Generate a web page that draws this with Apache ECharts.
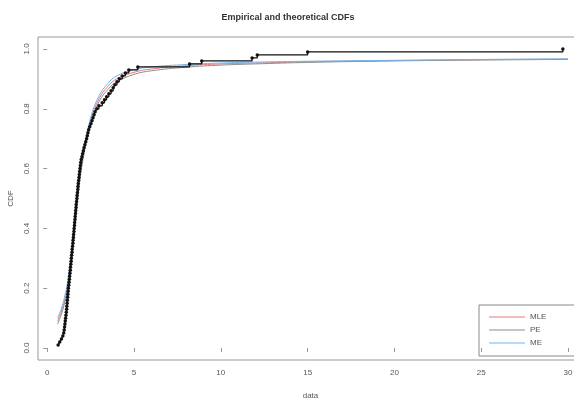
<!DOCTYPE html>
<html>
<head>
<meta charset="utf-8">
<script src="https://cdn.jsdelivr.net/npm/echarts@6/dist/echarts.min.js"></script>
<style>
  html, body { margin: 0; padding: 0; background: #fff; }
  #main { width: 574px; height: 398px; }
</style>
</head>
<body>
<div id="main"></div>
<script>
// sorted sample (ecdf)
const empX = [
  0.63, 0.72, 0.82, 0.90, 0.95, 0.98, 1.00, 1.02, 1.04, 1.06,
  1.08, 1.10, 1.12, 1.13, 1.15, 1.16, 1.18, 1.19, 1.21, 1.22,
  1.24, 1.26, 1.28, 1.29, 1.31, 1.33, 1.34, 1.36, 1.38, 1.39,
  1.41, 1.43, 1.44, 1.46, 1.48, 1.49, 1.51, 1.52, 1.54, 1.55,
  1.57, 1.58, 1.60, 1.61, 1.63, 1.64, 1.66, 1.67, 1.69, 1.71,
  1.72, 1.74, 1.76, 1.77, 1.79, 1.81, 1.83, 1.85, 1.87, 1.89,
  1.91, 1.93, 1.96, 2.00, 2.04, 2.08, 2.12, 2.17, 2.22, 2.27,
  2.31, 2.35, 2.39, 2.45, 2.52, 2.58, 2.64, 2.70, 2.76, 2.86,
  2.98, 3.17, 3.30, 3.42, 3.55, 3.68, 3.80, 3.90, 4.02, 4.15,
  4.32, 4.50, 4.70, 5.22, 8.20, 8.90, 11.80, 12.10, 15.00, 29.70
];

// fitted CDFs (MLE, PE, ME) read at these x values
const fitX   = [0.6, 0.8, 1.0, 1.2, 1.5, 1.8, 2.0, 2.5, 3.0, 3.5, 4.0, 5.0, 6.0, 8.0, 10, 12, 15, 20, 25, 30];
const mleCdf = [0.09, 0.12, 0.16, 0.22, 0.37, 0.53, 0.62, 0.76, 0.835, 0.875, 0.900, 0.922, 0.933, 0.944, 0.950, 0.953, 0.957, 0.961, 0.964, 0.966];
const peCdf  = [0.08, 0.11, 0.15, 0.21, 0.36, 0.52, 0.61, 0.75, 0.825, 0.865, 0.890, 0.915, 0.927, 0.939, 0.946, 0.950, 0.955, 0.960, 0.963, 0.965];
const meCdf  = [0.10, 0.13, 0.17, 0.23, 0.38, 0.54, 0.63, 0.77, 0.845, 0.885, 0.910, 0.930, 0.940, 0.948, 0.953, 0.956, 0.959, 0.962, 0.965, 0.967];

const fitNames  = ['MLE', 'PE', 'ME'];
const fitColors = ['#e87878', '#8e8e8e', '#70b4ec'];
const xTicks = [0, 5, 10, 15, 20, 25, 30];
const yTicks = [0, 0.2, 0.4, 0.6, 0.8, 1.0];

const n = empX.length;
const empData = empX.map((x, i) => [x, (i + 1) / n]);
const fits = [mleCdf, peCdf, meCdf];

const myChart = echarts.init(document.getElementById('main'));
myChart.setOption({
  animation: false,
  title: {
    text: 'Empirical and theoretical CDFs',
    left: 283, top: 8, textAlign: 'center',
    textStyle: { fontSize: 9, fontWeight: 'bold', color: '#333', fontFamily: 'Liberation Sans' }
  },
  legend: {
    data: fitNames,
    orient: 'vertical',
    left: 479, top: 305,
    padding: [7, 60, 8, 10],
    itemWidth: 36, itemHeight: 1,
    itemGap: 3,
    icon: 'rect',
    borderColor: '#888', borderWidth: 1,
    textStyle: { fontSize: 8, color: '#555', lineHeight: 10, fontFamily: 'Liberation Sans' }
  },
  grid: {
    left: 38, top: 37, width: 545, height: 323,
    outerBoundsMode: 'none',
    containLabel: false,
    show: true, borderColor: '#999', borderWidth: 1
  },
  xAxis: {
    type: 'value', min: -0.53, max: 30.86,
    name: 'data', nameLocation: 'middle', nameGap: 32,
    nameTextStyle: { fontSize: 8, color: '#555', fontFamily: 'Liberation Sans' },
    axisLine: { show: false },
    axisTick: { show: true, length: 4, lineStyle: { color: '#999' }, customValues: xTicks },
    axisLabel: { fontSize: 8, color: '#555', margin: 9, fontFamily: 'Liberation Sans', customValues: xTicks },
    splitLine: { show: false }
  },
  yAxis: {
    type: 'value', min: -0.04, max: 1.04,
    name: 'CDF', nameLocation: 'middle', nameGap: 22,
    nameTextStyle: { fontSize: 8, color: '#555', fontFamily: 'Liberation Sans' },
    axisLine: { show: false },
    axisTick: { show: true, length: 4, lineStyle: { color: '#999' }, customValues: yTicks },
    axisLabel: {
      fontSize: 8, color: '#555', rotate: 90, margin: 7, fontFamily: 'Liberation Sans',
      customValues: yTicks,
      formatter: v => v.toFixed(1)
    },
    splitLine: { show: false }
  },
  series: fits.map((ys, k) => ({
    name: fitNames[k],
    type: 'line',
    data: fitX.map((x, i) => [x, ys[i]]),
    smooth: 0.4,
    showSymbol: false,
    lineStyle: { width: 1, color: fitColors[k] },
    itemStyle: { color: fitColors[k] },
    z: 2
  })).concat([{
    name: 'empirical',
    type: 'line',
    step: 'end',
    data: empData,
    symbol: 'circle',
    symbolSize: 3.5,
    showAllSymbol: true,
    lineStyle: { width: 1.2, color: '#111' },
    itemStyle: { color: '#111' },
    z: 3
  }])
});
</script>
</body>
</html>
